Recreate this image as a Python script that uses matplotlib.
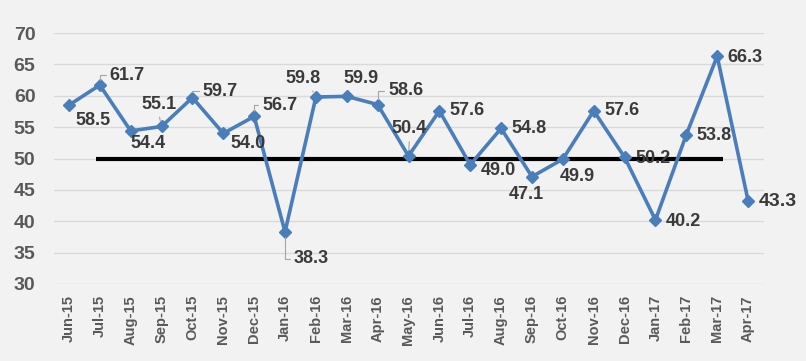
import matplotlib
matplotlib.use("Agg")
import matplotlib.pyplot as plt

plt.rcParams['font.family'] = ['Liberation Sans', 'DejaVu Sans']

months = ["Jun-15", "Jul-15", "Aug-15", "Sep-15", "Oct-15", "Nov-15", "Dec-15",
          "Jan-16", "Feb-16", "Mar-16", "Apr-16", "May-16", "Jun-16", "Jul-16",
          "Aug-16", "Sep-16", "Oct-16", "Nov-16", "Dec-16", "Jan-17", "Feb-17",
          "Mar-17", "Apr-17"]
values = [58.5, 61.7, 54.4, 55.1, 59.7, 54.0, 56.7, 38.3, 59.8, 59.9, 58.6,
          50.4, 57.6, 49.0, 54.8, 47.1, 49.9, 57.6, 50.2, 40.2, 53.8, 66.3, 43.3]
threshold = 50
yticks = [30, 35, 40, 45, 50, 55, 60, 65, 70]

# label offsets in pixels (dx right, dy down) relative to each point
label_off_px = [(24, 15), (27.5, -10), (17, 13), (-3, -22), (28, -6.6), (25, 10.6),
                (26, -11), (26.5, 26.6), (-12.4, -18.5), (14.7, -18), (28.3, -14),
                (1, -27), (27.6, 0), (27.7, 6), (28.3, 0.6), (-5.5, 18), (14, 17),
                (28, 0), (28, 1), (28, 1.5), (28, 1), (28, 1), (30, 1)]
# leader lines: (relpos on text, connection style)
elbow = "angle,angleA=0,angleB=90,rad=0"
leader = {1: ((0, 0.5), elbow), 3: ((0.5, 0), "arc3"), 4: ((0, 0.5), elbow),
          6: ((0, 0.5), elbow), 7: ((0, 0.5), elbow), 8: ((0.7, 0), "arc3"),
          9: ((0.2, 0), "arc3"), 10: ((0, 0.5), elbow), 11: ((0.5, 0), "arc3")}

bg = "#f2f2f2"
fig = plt.figure(figsize=(8.06, 3.61), dpi=100, facecolor=bg)
ax = fig.add_axes([53.5/806, 1-284/361, (763.5-53.5)/806, (284-33)/361])
ax.set_facecolor(bg)

x = list(range(len(months)))
ax.set_xlim(-0.5, len(months) - 0.5)
ax.set_ylim(30, 70)
ax.set_yticks(yticks)
ax.grid(axis='y', color='#d9d9d9', lw=1)
ax.set_axisbelow(True)
for s in ax.spines.values():
    s.set_visible(False)
ax.tick_params(length=0)
ax.set_xticks(x)
ax.set_xticklabels(months, rotation=90, fontsize=10.5, fontweight='bold', color='#595959')
ax.tick_params(axis='x', pad=8)
ax.tick_params(axis='y', pad=13)
for t in ax.get_yticklabels():
    t.set_fontsize(14)
    t.set_fontweight('bold')
    t.set_color('#595959')

ax.plot([0.87, 21.2], [threshold, threshold], color='black', lw=3, zorder=2,
        solid_capstyle='butt')
ax.plot(x, values, color='#4a7ebb', lw=2.6, marker='D', markersize=6,
        zorder=3)

k = 72 / 100
for i, v in enumerate(values):
    dx, dy = label_off_px[i]
    fs = 14 if i == len(values) - 1 else 13
    kw = {}
    if i in leader:
        rp, cs = leader[i]
        kw['arrowprops'] = dict(arrowstyle='-', color='#a6a6a6', lw=0.8,
                                shrinkA=1, shrinkB=4, relpos=rp,
                                connectionstyle=cs)
    ax.annotate(f"{v:.1f}", (i, v), xytext=(dx * k, -dy * k),
                textcoords='offset points', ha='center', va='center',
                fontsize=fs, fontweight='bold', color='#3a3a3a', zorder=4, **kw)

fig.savefig("out.png", dpi=100, facecolor=bg)
